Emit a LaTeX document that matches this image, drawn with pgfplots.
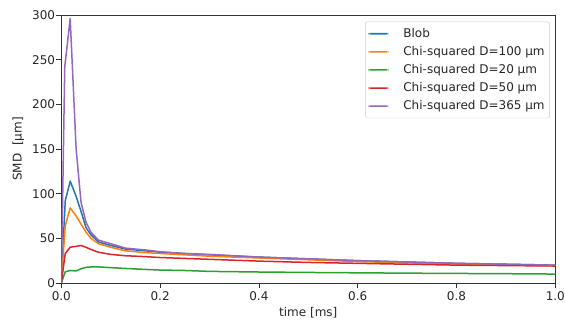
\documentclass[border=0pt]{standalone}
\usepackage{fontspec}
\setmainfont{DejaVu Sans}
\usepackage{pgfplots}
\pgfplotsset{compat=1.18}
\definecolor{tabblue}{HTML}{1F77B4}
\definecolor{taborange}{HTML}{FF7F0E}
\definecolor{tabgreen}{HTML}{2CA02C}
\definecolor{tabred}{HTML}{D62728}
\definecolor{tabpurple}{HTML}{9467BD}
\begin{document}
\begin{tikzpicture}
\begin{axis}[
  scale only axis, width=494pt, height=268pt,
  xmin=0, xmax=1, ymin=0, ymax=300,
  xtick={0,0.2,0.4,0.6,0.8,1.0},
  xticklabels={0.0,0.2,0.4,0.6,0.8,1.0},
  ytick={0,50,100,150,200,250,300},
  tick align=outside, tick pos=left,
  major tick length=5pt,
  every tick/.style={black!80, line width=0.8pt},
  axis line style={black!80, line width=0.8pt},
  /pgf/number format/assume math mode=true,
  ticklabel style={font=\fontsize{12}{14}\selectfont, text=black!85},
  yticklabel style={inner xsep=1pt},
  label style={font=\fontsize{12}{14}\selectfont, text=black!85},
  xlabel={time [ms]}, ylabel={SMD\ \ [µm]},
  xlabel style={at={(axis description cs:0.5,-0.112)}, anchor=center},
  ylabel style={at={(axis description cs:-0.087,0.5)}, anchor=center},
  legend cell align=left,
  legend style={font=\fontsize{12}{14}\selectfont, text=black!85, draw=black!20, rounded corners=2pt, at={(0.989,0.975)}, anchor=north east, row sep=3.5pt, inner xsep=3pt, inner ysep=4.5pt},
  legend image code/.code={\fill[#1, draw=none] (0pt,-0.8pt) rectangle (20pt,0.8pt); \path[draw=none, fill=none] (33pt,0pt) circle[radius=0pt];},
  every axis plot/.append style={line width=1.5pt, line join=round},
]
\addplot[tabblue] coordinates {(0,0) (0.008,92) (0.018,114) (0.03,97) (0.04,80) (0.05,62) (0.06,54) (0.075,46) (0.1,42) (0.13,38) (0.17,36) (0.2,34.5) (0.25,33) (0.3,31.5) (0.4,29) (0.5,27) (0.6,25) (0.7,23.5) (0.8,22) (0.9,21) (1.0,20)};
\addlegendentry{Blob}
\addplot[taborange] coordinates {(0,0) (0.008,64) (0.018,84) (0.03,75) (0.04,66) (0.05,57) (0.06,50) (0.075,44) (0.1,40) (0.13,36) (0.17,34) (0.2,33) (0.25,31.5) (0.3,30) (0.4,28) (0.5,26) (0.6,24) (0.7,22.5) (0.8,21.5) (0.9,20.5) (1.0,19.5)};
\addlegendentry{Chi-squared D=100 µm}
\addplot[tabgreen] coordinates {(0,0) (0.008,12.5) (0.018,14) (0.03,13.5) (0.04,16) (0.05,17.5) (0.06,18) (0.075,18) (0.1,17.2) (0.13,16.3) (0.17,15.2) (0.2,14.5) (0.25,14) (0.3,13) (0.4,12.3) (0.5,11.8) (0.6,11.4) (0.7,11) (0.8,10.7) (0.9,10.4) (1.0,10)};
\addlegendentry{Chi-squared D=20 µm}
\addplot[tabred] coordinates {(0,0) (0.008,33) (0.018,40) (0.03,41) (0.04,42) (0.05,40) (0.06,37.5) (0.075,34.5) (0.1,32) (0.13,30.5) (0.17,29.5) (0.2,28.5) (0.25,27.5) (0.3,26.5) (0.4,24.5) (0.5,23) (0.6,22) (0.7,21) (0.8,20) (0.9,19.5) (1.0,19)};
\addlegendentry{Chi-squared D=50 µm}
\addplot[tabpurple] coordinates {(0,0) (0.007,242) (0.018,296) (0.03,150) (0.04,90) (0.05,68) (0.06,57) (0.075,48) (0.1,44) (0.13,39) (0.17,37) (0.2,35) (0.25,33) (0.3,32) (0.4,29) (0.5,27) (0.6,25) (0.7,23.5) (0.8,22) (0.9,21) (1.0,20)};
\addlegendentry{Chi-squared D=365 µm}
\end{axis}
\pgfresetboundingbox
\path ([xshift=-61.3pt,yshift=-39.7pt]current axis.south west) rectangle ([xshift=9.7pt,yshift=15pt]current axis.north east);
\end{tikzpicture}
\end{document}
